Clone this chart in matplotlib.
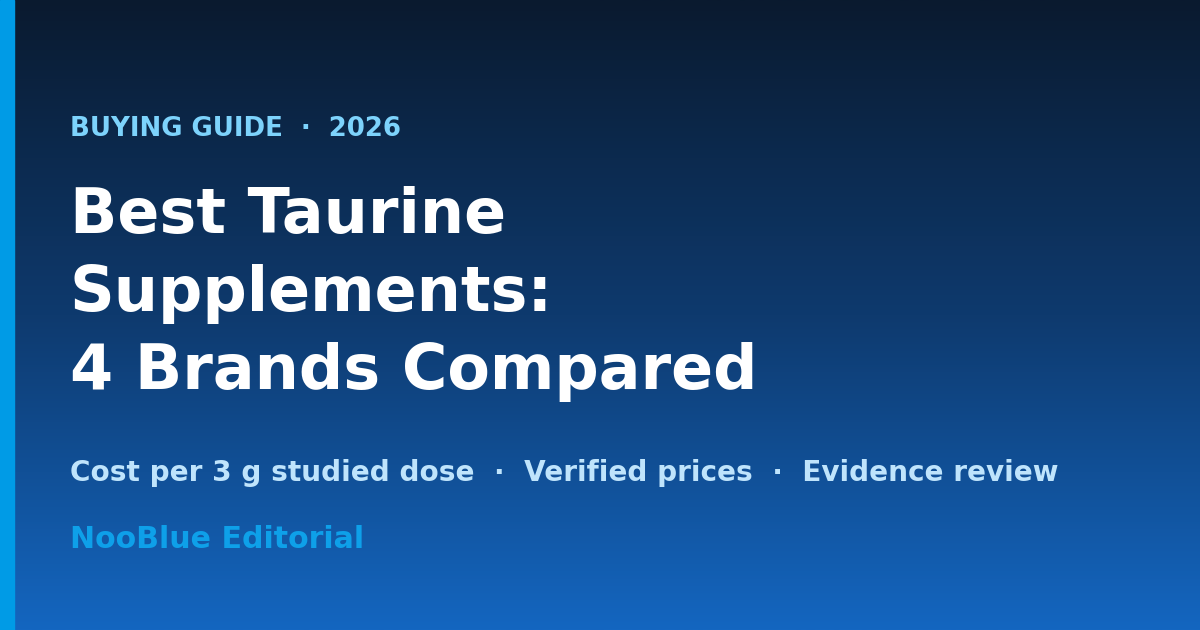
import numpy as np
import matplotlib.pyplot as plt
from matplotlib.colors import LinearSegmentedColormap

# text content
kicker = "BUYING GUIDE  \u00b7  2026"
title_lines = ["Best Taurine", "Supplements:", "4 Brands Compared"]
subtitle = "Cost per 3 g studied dose  \u00b7  Verified prices  \u00b7  Evidence review"
byline = "NooBlue Editorial"

W, H = 1200, 630
fig = plt.figure(figsize=(W / 100, H / 100), dpi=100)
ax = fig.add_axes([0, 0, 1, 1])
ax.set_xlim(0, W)
ax.set_ylim(H, 0)
ax.axis("off")

# vertical gradient background
grad = LinearSegmentedColormap.from_list("bg", ["#0a1a2f", "#0e3a6e", "#1466c0"])
g = np.linspace(0, 1, 256).reshape(-1, 1)
ax.imshow(g, cmap=grad, extent=[0, W, H, 0], aspect="auto", zorder=0)

# accent bar on the left edge
ax.add_patch(plt.Rectangle((0, 0), 14, H, color="#009be6", zorder=1))

px = 0.72  # px -> pt at dpi 100
x0 = 70

ax.text(x0, 136, kicker, fontsize=26 * px, fontweight="bold", color="#7dd3fc",
        va="baseline", ha="left")

for i, line in enumerate(title_lines):
    ax.text(x0, 233 + i * 78, line, fontsize=62 * px, fontweight="bold",
            color="white", va="baseline", ha="left")

ax.text(x0, 481, subtitle, fontsize=27.9 * px, fontweight="bold", color="#bfe4fc",
        va="baseline", ha="left")

ax.text(x0, 548, byline, fontsize=30 * px, fontweight="bold", color="#0ea0e9",
        va="baseline", ha="left")

fig.savefig("out.png", dpi=100)
